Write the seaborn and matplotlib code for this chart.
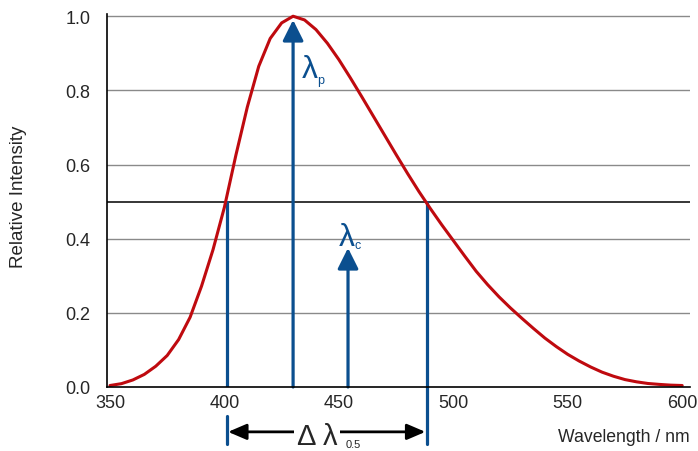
import numpy as np
import pandas as pd
import matplotlib.pyplot as plt
import seaborn as sns

sns.set_style('white')
plt.rcParams['font.family'] = ['Liberation Sans', 'DejaVu Sans']

# spectrum
wavelength = [350, 355, 360, 365, 370, 375, 380, 385, 390, 395, 400, 405, 410, 415, 420,
              425, 430, 435, 440, 445, 450, 455, 460, 465, 470, 475, 480, 485, 490, 495,
              500, 505, 510, 515, 520, 525, 530, 535, 540, 545, 550, 555, 560, 565, 570,
              575, 580, 585, 590, 595, 600]
intensity = [0.004, 0.009, 0.019, 0.034, 0.056, 0.085, 0.128, 0.188, 0.272, 0.370, 0.485,
             0.625, 0.755, 0.865, 0.940, 0.982, 1.000, 0.990, 0.964, 0.927, 0.883, 0.834,
             0.783, 0.731, 0.679, 0.627, 0.576, 0.527, 0.481, 0.437, 0.395, 0.353, 0.312,
             0.276, 0.243, 0.213, 0.185, 0.158, 0.132, 0.109, 0.088, 0.070, 0.054, 0.040,
             0.029, 0.020, 0.014, 0.0095, 0.007, 0.005, 0.004]
xticks = [350, 400, 450, 500, 550, 600]
yticks = [0.0, 0.2, 0.4, 0.6, 0.8, 1.0]

peak_nm = 430
peak_val = 0.99
centroid_nm = 454
centroid_top = 0.375
half_lo = 401
half_hi = 488.4
half_level = 0.5

red = '#BF0A0F'
blue = '#0B4F8F'

df = pd.DataFrame({'Wavelength': wavelength, 'Intensity': intensity})

fig, ax = plt.subplots(figsize=(6.98, 4.52), dpi=100)
fig.subplots_adjust(left=0.1533, right=0.9885, bottom=0.1416, top=0.9668)

for y in yticks[1:]:
    ax.axhline(y, color='#8a8a8a', lw=1.0, zorder=1)
ax.axhline(half_level, color='black', lw=1.1, zorder=2)

# half-width markers (run below the axis)
ax.plot([half_lo, half_lo], [0, half_level], color=blue, lw=2.3, zorder=3)
ax.plot([half_lo, half_lo], [-0.078, -0.154], color=blue, lw=2.3, zorder=3, clip_on=False)
ax.plot([half_hi, half_hi], [-0.154, half_level], color=blue, lw=2.3, zorder=3, clip_on=False)

arrow_kw = dict(arrowstyle='-|>,head_length=0.7,head_width=0.35', mutation_scale=18,
                lw=2.3, color=blue, shrinkA=0, shrinkB=0)
ax.annotate('', xy=(peak_nm, peak_val), xytext=(peak_nm, 0), arrowprops=arrow_kw, zorder=3)
ax.annotate('', xy=(centroid_nm, centroid_top), xytext=(centroid_nm, 0), arrowprops=arrow_kw, zorder=3)

sns.lineplot(data=df, x='Wavelength', y='Intensity', color=red, lw=2.2, ax=ax, zorder=5,
             solid_joinstyle='round', solid_capstyle='round')

# lambda labels
ax.text(437.3, 0.857, 'λ', color=blue, fontsize=23, va='center', ha='center')
ax.text(440.6, 0.827, 'p', color=blue, fontsize=9, va='center', ha='left')
ax.text(453.3, 0.405, 'λ', color=blue, fontsize=23, va='center', ha='center')
ax.text(456.8, 0.382, 'c', color=blue, fontsize=9, va='center', ha='left')

# delta lambda double arrow under the axis
dbl_kw = dict(arrowstyle='<|-|>,head_length=0.7,head_width=0.3', mutation_scale=16,
              lw=2.0, color='black', shrinkA=0, shrinkB=0)
ax.annotate('', xy=(half_lo + 0.6, -0.121), xytext=(half_hi - 0.6, -0.121),
            arrowprops=dbl_kw, annotation_clip=False)
ax.text(440.5, -0.131, 'Δ λ', fontsize=21, va='center', ha='center',
        bbox=dict(facecolor='white', edgecolor='none', pad=2), clip_on=False)
ax.text(452.8, -0.153, '0.5', fontsize=8, va='center', ha='left', clip_on=False)

ax.set_xlim(348.7, 603.4)
ax.set_ylim(0, 1.006)
ax.set_xticks(xticks)
ax.set_yticks(yticks)
ax.set_yticklabels([f'{v:.1f}' for v in yticks])
ax.tick_params(axis='x', direction='in', length=4, width=1, color='black', labelsize=13, pad=5)
ax.tick_params(axis='y', length=0, labelsize=13, pad=12)
ax.set_xlabel('')
ax.set_ylabel('')

sns.despine(ax=ax)
for side in ['left', 'bottom']:
    ax.spines[side].set_color('black')
    ax.spines[side].set_linewidth(1.2)
    ax.spines[side].set_zorder(6)

fig.text(0.9885, 0.031, 'Wavelength / nm', fontsize=12.7, ha='right', va='center')
fig.text(0.026, 0.565, 'Relative Intensity', fontsize=13.5, rotation=90, ha='center', va='center')

fig.savefig('out.png', dpi=100)
